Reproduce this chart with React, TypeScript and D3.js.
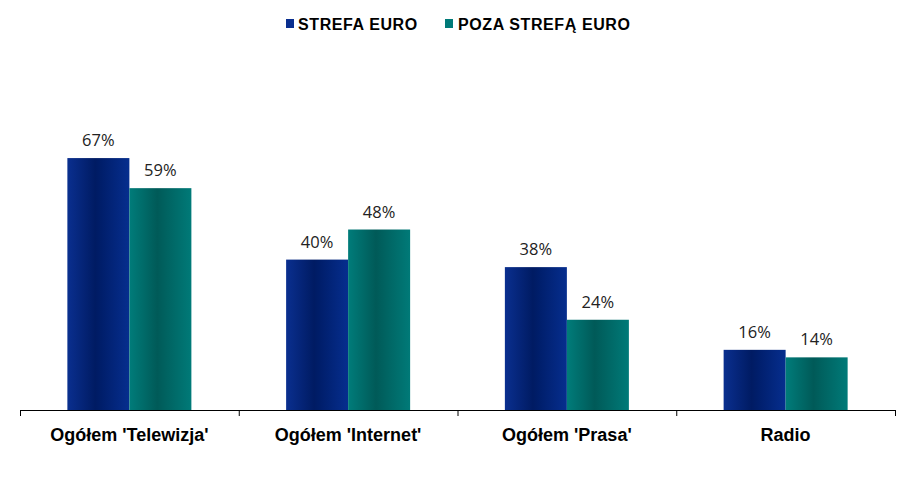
import React from "react";
import * as d3 from "d3";

const categories = ["Ogółem 'Telewizja'", "Ogółem 'Internet'", "Ogółem 'Prasa'", "Radio"];
const seriesNames = ["STREFA EURO", "POZA STREFĄ EURO"];
const strefaEuro = [67, 40, 38, 16];
const pozaStrefa = [59, 48, 24, 14];

const W = 907, H = 498;
const x0 = 20, x1 = 895, yBase = 410, yTop = 34;

export default function App() {
  const x = d3.scaleBand<string>().domain(categories).range([x0, x1]).paddingInner(0).paddingOuter(0);
  const xs = d3.scaleBand<string>().domain(seriesNames).range([0, x.bandwidth()]).paddingInner(0).paddingOuter(0.764);
  const y = d3.scaleLinear().domain([0, 100]).range([yBase, yTop]);
  const series = [strefaEuro, pozaStrefa];
  const fills = ["url(#gBlue)", "url(#gTeal)"];
  const ticks = [...categories.map(c => x(c)!), x1];

  return (
    <svg width={W} height={H} style={{ position: "absolute", left: 0, top: 0, background: "#fff" }}>
      <defs>
        <linearGradient id="gBlue" x1="0" x2="1" y1="0" y2="0">
          <stop offset="0" stopColor="#0a2f8f" />
          <stop offset="0.45" stopColor="#001b63" />
          <stop offset="0.55" stopColor="#001e6b" />
          <stop offset="1" stopColor="#062e8e" />
        </linearGradient>
        <linearGradient id="gTeal" x1="0" x2="1" y1="0" y2="0">
          <stop offset="0" stopColor="#007c7a" />
          <stop offset="0.45" stopColor="#005a58" />
          <stop offset="0.55" stopColor="#00605e" />
          <stop offset="1" stopColor="#007a78" />
        </linearGradient>
      </defs>
      {/* legend */}
      <g fontFamily="'Liberation Sans', Arial, sans-serif" fontWeight="bold" fontSize={16} letterSpacing={0.6} fill="#000">
        <rect x={286} y={19} width={8} height={9} fill="#0a2f8f" />
        <text x={298} y={30}>{seriesNames[0]}</text>
        <rect x={445} y={19} width={8} height={9} fill="#007a78" />
        <text x={458} y={30}>{seriesNames[1]}</text>
      </g>
      {series.map((vals, si) =>
        categories.map((c, i) => {
          const bx = x(c)! + xs(seriesNames[si])!;
          const bw = xs.bandwidth();
          return (
            <g key={c + si}>
              <rect x={bx} y={y(vals[i])} width={bw} height={yBase - y(vals[i])} fill={fills[si]} />
              <text x={bx + bw / 2} y={y(vals[i]) - 12} textAnchor="middle" fontFamily="'Open Sans', 'Noto Sans', sans-serif" fontSize={16.5} fill="#222">{vals[i]}%</text>
            </g>
          );
        })
      )}
      <line x1={x0} x2={x1} y1={yBase + 0.5} y2={yBase + 0.5} stroke="#000" strokeWidth={1} />
      {ticks.map((t, i) => (
        <line key={i} x1={t + 0.5} x2={t + 0.5} y1={yBase} y2={yBase + 6} stroke="#000" />
      ))}
      {categories.map(c => (
        <text key={c} x={x(c)! + x.bandwidth() / 2} y={441} textAnchor="middle" fontFamily="'Liberation Sans', Arial, sans-serif" fontWeight="bold" fontSize={18} fill="#000">{c}</text>
      ))}
    </svg>
  );
}
